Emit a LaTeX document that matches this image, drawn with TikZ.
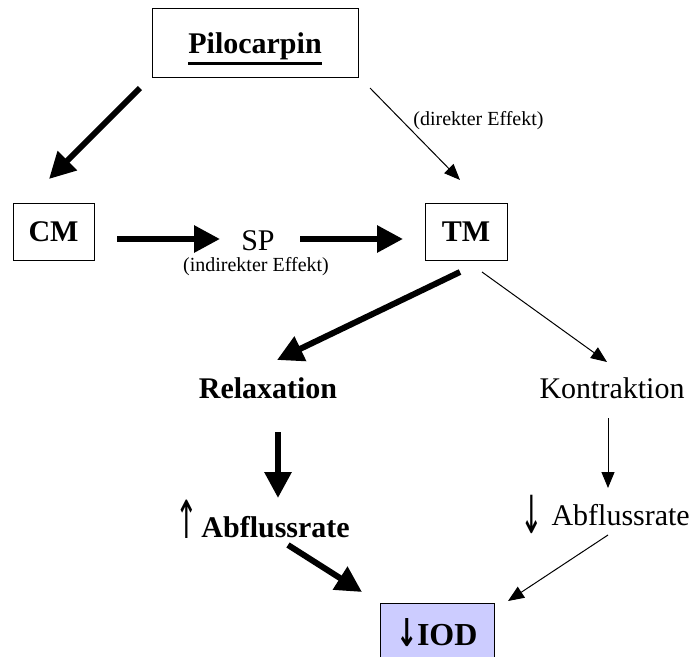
\documentclass[tikz,border=0pt]{standalone}
\usepackage{fontspec}
\setmainfont{Liberation Serif}
\newfontfamily\arrfont{DejaVu Sans}
\usetikzlibrary{arrows.meta,calc}
\definecolor{iodfill}{RGB}{204,204,255}
\newcommand\ulthick[1]{\vtop{\hbox{#1}\kern2.5pt\hrule height 3pt}}
\newcommand\tallarrow[1]{\raisebox{-1pt}{\scalebox{0.9}[1.75]{\arrfont\mdseries #1}}}
\tikzset{
  box/.style={draw, line width=1pt, inner sep=0pt},
  big/.style={font=\fontsize{30}{36}\selectfont},
  small/.style={font=\fontsize{20}{24}\selectfont},
  lbl/.style={inner sep=0pt},
  thickarr/.style={line width=6pt, -{Triangle[length=26pt,width=26pt]}},
  thinarr/.style={line width=1pt, -{Triangle[length=16pt,width=13pt]}},
}
\begin{document}
\begin{tikzpicture}[x=1pt,y=-1pt]
\useasboundingbox (0,0) rectangle (693,656);
% boxes
\node[box, big, minimum width=206pt, minimum height=69pt, text height=25pt, text depth=4pt] (pilo) at (255,42.5) {\textbf{\ulthick{Pilocarpin}}};
\node[box, big, minimum width=81pt, minimum height=57pt] (cm) at (53.5,231.5) {\textbf{CM}};
\node[box, big, minimum width=82pt, minimum height=57pt] (tm) at (466,231.5) {\textbf{TM}};
\node[box, fill=iodfill, minimum width=114pt, minimum height=63pt, text height=21pt, text depth=0pt, font=\fontsize{32}{38}\selectfont\bfseries] (iod) at (437,634.5) {\raisebox{-1pt}{\scalebox{0.8}[1.2]{\arrfont\bfseries ↓}}\hspace{-1pt}IOD};
% texts
\node[lbl, big, anchor=base] (sp) at (258,250) {SP};
\node[lbl, small, anchor=base] (ind) at (256,271) {(indirekter Effekt)};
\node[lbl, small, anchor=base] (dir) at (478.5,125) {(direkter Effekt)};
\node[lbl, big, anchor=base] (relax) at (268,398) {\textbf{Relaxation}};
\node[lbl, big, anchor=base] (kontr) at (612,398) {Kontraktion};
\node[lbl, big, anchor=base east] (abfl1) at (350,537) {\tallarrow{↑}\hspace{3pt}\textbf{Abflussrate}};
\node[lbl, big, anchor=base east] (abfl2) at (690,525) {\raisebox{-7pt}{\tallarrow{↓}}\hspace{8pt}Abflussrate};
% connectors
\draw[thickarr] ($(pilo)+(-115,45.5)$) -- ($(cm)+(-4.5,-52.5)$);
\draw[thinarr]  ($(pilo)+(115,45.5)$) -- ($(tm)+(-6,-51.5)$);
\draw[thickarr] ($(cm)+(63.5,7.5)$) -- ($(sp.base)+(-38,-11)$);
\draw[thickarr] ($(sp.base)+(42,-11)$) -- ($(tm)+(-63,7.5)$);
\draw[thickarr] ($(tm)+(-6,40.5)$) -- ($(relax.base)+(9,-38)$);
\draw[thinarr]  ($(tm)+(16,40.5)$) -- ($(kontr.base)+(-5,-36)$);
\draw[thickarr] ($(relax.base)+(10,34)$) -- ($(abfl1.base east)+(-72,-39)$);
\draw[thinarr]  ($(kontr.base)+(-4,20)$) -- ($(abfl2.base east)+(-82,-37)$);
\draw[thickarr] ($(abfl1.base east)+(-62,8)$) -- ($(iod)+(-75,-42.5)$);
\draw[thinarr]  ($(abfl2.base east)+(-82,10)$) -- ($(iod)+(71,-33.5)$);
\end{tikzpicture}
\end{document}
